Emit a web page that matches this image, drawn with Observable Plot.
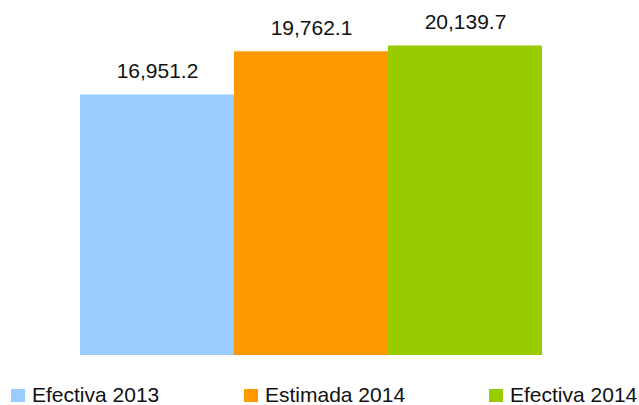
<!DOCTYPE html>
<html>
<head>
<meta charset="utf-8">
<script src="https://cdn.jsdelivr.net/npm/d3@7"></script>
<script src="https://cdn.jsdelivr.net/npm/@observablehq/plot@0.6"></script>
<style>
  html, body { margin: 0; padding: 0; background: #fff; }
  #wrap { position: relative; width: 639px; height: 405px; overflow: hidden; font-family: "Liberation Sans", Arial, sans-serif; }
  #legend { position: absolute; left: 0; top: 370px; width: 639px; height: 35px; }
  .item { position: absolute; top: 14px; display: flex; align-items: center; font-size: 21px; color: #111; white-space: nowrap; line-height: 22px; }
  .sw { width: 14px; height: 13px; margin-right: 7px; }
</style>
</head>
<body>
<div id="wrap">
  <div id="chart"></div>
  <div id="legend"></div>
</div>
<script>
const categories = ["Efectiva 2013", "Estimada 2014", "Efectiva 2014"];
const values = [16951.2, 19762.1, 20139.7];
const colors = ["#99CCFF", "#FF9900", "#99CC00"];
const labels = ["16,951.2", "19,762.1", "20,139.7"];

const data = categories.map((c, i) => ({cat: c, value: values[i], label: labels[i]}));

const chart = Plot.plot({
  width: 639,
  height: 370,
  marginLeft: 79,
  marginRight: 96,
  marginTop: 0,
  marginBottom: 15,
  x: {domain: categories, padding: 0, axis: null},
  y: {domain: [0, 23100], axis: null},
  color: {domain: categories, range: colors},
  style: {fontFamily: "Liberation Sans, Arial, sans-serif", background: "white"},
  marks: [
    Plot.barY(data, {x: "cat", y: "value", fill: "cat"}),
    Plot.text(data, {x: "cat", y: "value", text: "label", lineAnchor: "bottom", dy: -17, fontSize: 21, fill: "#111"})
  ]
});
document.getElementById("chart").appendChild(chart);

const legend = document.getElementById("legend");
const lefts = [11, 244, 489];
categories.forEach((c, i) => {
  const it = document.createElement("div");
  it.className = "item";
  it.style.left = lefts[i] + "px";
  const sw = document.createElement("span");
  sw.className = "sw";
  sw.style.background = colors[i];
  const t = document.createElement("span");
  t.textContent = c;
  it.appendChild(sw);
  it.appendChild(t);
  legend.appendChild(it);
});
</script>
</body>
</html>
